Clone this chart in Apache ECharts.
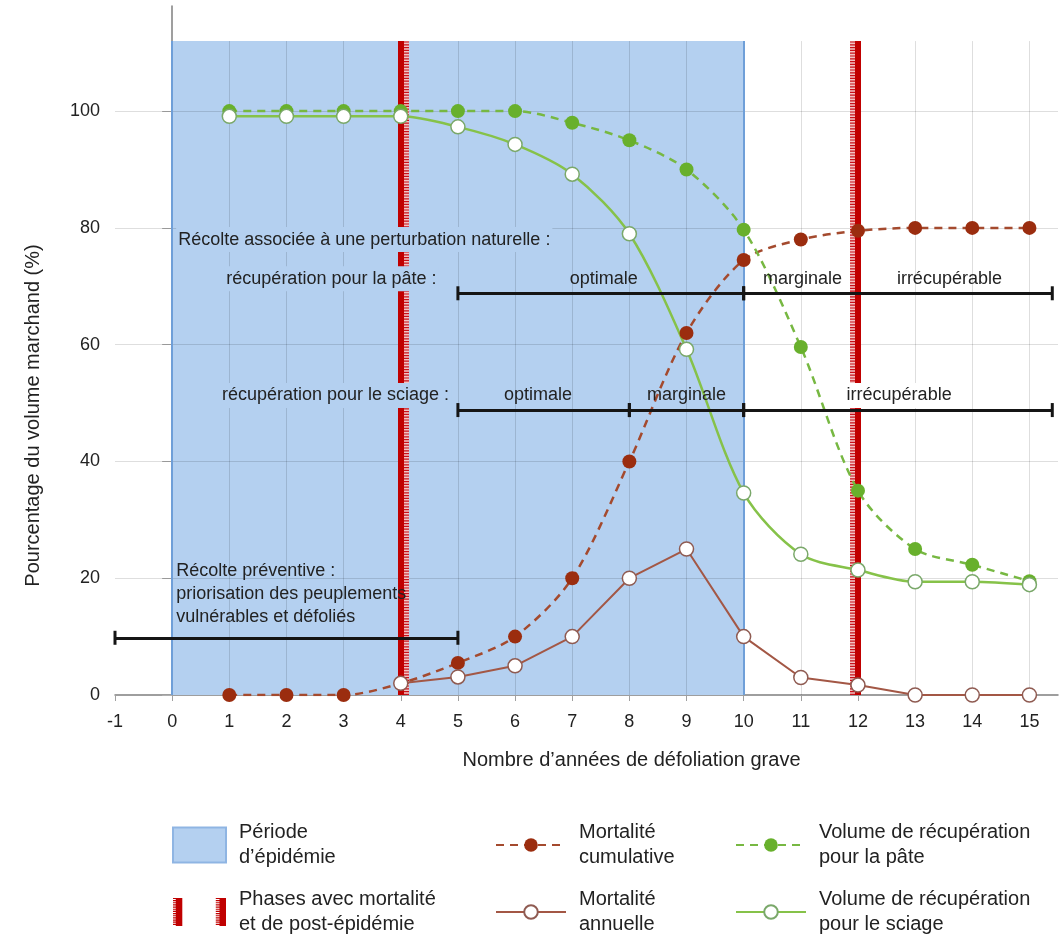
<!DOCTYPE html>
<html>
<head>
<meta charset="utf-8">
<script src="https://cdn.jsdelivr.net/npm/echarts@6/dist/echarts.min.js"></script>
<style>
  html, body { margin: 0; padding: 0; background: #ffffff; }
  #chart { width: 1063px; height: 943px; }
</style>
</head>
<body>
<div id="chart"></div>
<script>
// ---------- data ----------
const xTicks = [-1, 0, 1, 2, 3, 4, 5, 6, 7, 8, 9, 10, 11, 12, 13, 14, 15];
const yTicks = [0, 20, 40, 60, 80, 100];
const years = [1, 2, 3, 4, 5, 6, 7, 8, 9, 10, 11, 12, 13, 14, 15];
const cumulativeMortality = [0, 0, 0, 2, 5.5, 10, 20, 40, 62, 74.5, 78, 79.5, 80, 80, 80];
const annualMortality = [null, null, null, 2, 3.1, 5, 10, 20, 25, 10, 3, 1.7, 0, 0, 0];
const pulpRecovery = [100, 100, 100, 100, 100, 100, 98, 95, 90, 79.7, 59.6, 35, 25, 22.3, 19.5];
const sawlogRecovery = [99.1, 99.1, 99.1, 99.1, 97.3, 94.3, 89.2, 79, 59.2, 34.6, 24.1, 21.4, 19.4, 19.4, 18.9];
const epidemicPeriod = [0, 10];
const phaseYears = [4, 12];
const areaTop = 112;
// annotation bars: breakpoints along x and the level (y)
const pulpBar = { level: 68.8, breaks: [5, 10, 15.4] };
const sawlogBar = { level: 48.8, breaks: [5, 8, 10, 15.4] };
const preventiveBar = { level: 9.8, breaks: [-1, 5] };

const PERIOD = 'Période\nd’épidémie';
const PHASES = 'Phases avec mortalité\net de post-épidémie';
const CUM = 'Mortalité\ncumulative';
const ANN = 'Mortalité\nannuelle';
const PULP = 'Volume de récupération\npour la pâte';
const SAW = 'Volume de récupération\npour le sciage';

const annotations = [
  { text: 'Récolte associée à une perturbation naturelle :', x: 0.07, y: 78, align: 'left', bg: '#b4d0f0' },
  { text: 'récupération pour la pâte :', x: 4.66, y: 71.3, align: 'right', bg: '#b4d0f0' },
  { text: 'optimale', x: 7.55, y: 71.3, align: 'center' },
  { text: 'marginale', x: 11.03, y: 71.3, align: 'center' },
  { text: 'irrécupérable', x: 13.6, y: 71.3, align: 'center' },
  { text: 'récupération pour le sciage :', x: 4.88, y: 51.3, align: 'right', bg: '#b4d0f0' },
  { text: 'optimale', x: 6.4, y: 51.3, align: 'center' },
  { text: 'marginale', x: 9.0, y: 51.3, align: 'center' },
  { text: 'irrécupérable', x: 12.72, y: 51.3, align: 'center', bg: '#ffffff' },
  { text: 'Récolte préventive :\npriorisation des peuplements\nvulnérables et défoliés', x: 0.07, y: 17.3, align: 'left' }
];

// ---------- helpers ----------
const FONT = 'Liberation Sans, Arial, sans-serif';
const TXT = '#222222';
const pairs = (arr) => years.map((x, i) => [x, arr[i]]).filter(p => p[1] !== null);

const gridLines = [];
xTicks.filter(x => x > xTicks[0]).forEach(x => {
  gridLines.push([{ coord: [x, 0] }, { coord: [x, areaTop] }]);
});
yTicks.filter(y => y > 0).forEach(y => {
  gridLines.push([{ coord: [xTicks[0], y] }, { coord: [15.5, y] }]);
});
epidemicPeriod.forEach(x => {
  gridLines.push([{ coord: [x, 0], lineStyle: { color: '#6f9fd8', width: 2 } }, { coord: [x, areaTop] }]);
});

const phaseLines = [];
phaseYears.forEach((p, i) => {
  const side = i === 0 ? 1 : -1;
  const off = side * 0.092;
  phaseLines.push([{ coord: [p + off, 0], lineStyle: { color: '#f3c4c4', width: 5, type: 'solid' } }, { coord: [p + off, areaTop] }]);
  phaseLines.push([{ coord: [p + off, 0], lineStyle: { color: '#c8101a', width: 5, type: [1.2, 1.6] } }, { coord: [p + off, areaTop] }]);
  phaseLines.push([{ coord: [p, 0], lineStyle: { color: '#c00000', width: 6, type: 'solid' } }, { coord: [p, areaTop] }]);
});

const barSegments = [];
[pulpBar, sawlogBar, preventiveBar].forEach(b => {
  for (let i = 0; i < b.breaks.length - 1; i++) {
    barSegments.push([{ coord: [b.breaks[i], b.level] }, { coord: [b.breaks[i + 1], b.level] }]);
  }
});

// hatched legend icon: two red bars with comb-like ticks
let phaseIcon = 'path://M3,0H10V30H3ZM50,0H57V30H50Z';
for (let y = 0; y < 30; y += 2) {
  phaseIcon += 'M0,' + y + 'H3V' + (y + 1.1) + 'H0Z';
  phaseIcon += 'M46,' + y + 'H50V' + (y + 1.1) + 'H46Z';
}

const emptyMark = { show: false };

const chart = echarts.init(document.getElementById('chart'), null, { renderer: 'canvas' });

const legendText = { fontFamily: FONT, fontSize: 20, color: TXT, lineHeight: 25, padding: [0, 0, 0, 8] };

const option = {
  backgroundColor: '#ffffff',
  animation: false,
  grid: { left: 115, right: 5, top: 6, bottom: 248, containLabel: false },
  xAxis: {
    type: 'value', min: -1, max: 15.5, interval: 1,
    name: 'Nombre d’années de défoliation grave',
    nameLocation: 'middle', nameGap: 55,
    nameTextStyle: { fontFamily: FONT, fontSize: 20, color: TXT, padding: [0, 0, 0, 90] },
    axisLine: { show: true, onZero: true, lineStyle: { color: '#7f7f7f', width: 1.5 } },
    axisTick: { show: true, length: 6, customValues: xTicks, lineStyle: { color: '#a0a0a0' } },
    axisLabel: { customValues: xTicks, margin: 18, fontFamily: FONT, fontSize: 18, color: TXT },
    splitLine: { show: false }
  },
  yAxis: {
    type: 'value', min: 0, max: 118, interval: 20,
    name: 'Pourcentage du volume marchand (%)',
    nameLocation: 'middle', nameGap: 72,
    nameTextStyle: { fontFamily: FONT, fontSize: 20, color: TXT, padding: [0, 130, 0, 0] },
    axisLine: { show: true, lineStyle: { color: '#7f7f7f', width: 1.5 } },
    axisTick: { show: true, length: 10, customValues: yTicks, lineStyle: { color: '#b0b0b0' } },
    axisLabel: { customValues: yTicks, margin: 15, fontFamily: FONT, fontSize: 18, color: TXT },
    splitLine: { show: false }
  },
  legend: [
    {
      orient: 'vertical', left: 172, top: 820, padding: 0, itemWidth: 53, itemHeight: 35, itemGap: 17,
      selectedMode: false, textStyle: legendText,
      data: [{ name: PERIOD, icon: 'rect' }, { name: PHASES, icon: phaseIcon }]
    },
    {
      orient: 'vertical', left: 495, top: 820, padding: 0, itemWidth: 70, itemHeight: 17, itemGap: 17,
      selectedMode: false, textStyle: legendText, data: [CUM, ANN]
    },
    {
      orient: 'vertical', left: 735, top: 820, padding: 0, itemWidth: 70, itemHeight: 17, itemGap: 17,
      selectedMode: false, textStyle: legendText, data: [PULP, SAW]
    }
  ],
  series: [
    {
      name: PERIOD, type: 'line', data: [],
      itemStyle: { color: '#b4d0f0', borderColor: '#8fb5e3', borderWidth: 1 },
      markArea: {
        silent: true, z: 1, label: emptyMark,
        itemStyle: { color: '#b4d0f0', opacity: 1 },
        data: [[{ coord: [epidemicPeriod[0], 0] }, { coord: [epidemicPeriod[1], areaTop] }]]
      }
    },
    {
      name: 'grid', type: 'line', data: [],
      markLine: {
        silent: true, z: 1.5, symbol: 'none', label: emptyMark, animation: false,
        lineStyle: { color: 'rgba(0,0,0,0.13)', width: 1, type: 'solid' },
        data: gridLines
      }
    },
    {
      name: PHASES, type: 'line', data: [],
      itemStyle: { color: '#c00000' },
      markLine: {
        silent: true, z: 2, symbol: 'none', label: emptyMark, animation: false,
        data: phaseLines
      }
    },
    {
      name: CUM, type: 'line', z: 3, smooth: 0.3, data: pairs(cumulativeMortality),
      symbol: 'circle', symbolSize: 14,
      lineStyle: { color: '#a44a2e', width: 2.5, type: [8, 6] },
      itemStyle: { color: '#9b2d0f' }
    },
    {
      name: ANN, type: 'line', z: 3, data: pairs(annualMortality),
      symbol: 'circle', symbolSize: 14,
      lineStyle: { color: '#a35745', width: 2 },
      itemStyle: { color: '#ffffff', borderColor: '#8f5b52', borderWidth: 1.5 }
    },
    {
      name: PULP, type: 'line', z: 3, smooth: 0.3, data: pairs(pulpRecovery),
      symbol: 'circle', symbolSize: 14,
      lineStyle: { color: '#77b842', width: 2.5, type: [8, 6] },
      itemStyle: { color: '#68b02c' }
    },
    {
      name: SAW, type: 'line', z: 3, smooth: 0.3, data: pairs(sawlogRecovery),
      symbol: 'circle', symbolSize: 14,
      lineStyle: { color: '#86c249', width: 2.5 },
      itemStyle: { color: '#ffffff', borderColor: '#7aa86a', borderWidth: 1.5 }
    },
    {
      name: 'bars', type: 'line', data: [],
      markLine: {
        silent: true, z: 4, symbol: ['rect', 'rect'], symbolSize: [14, 3], label: emptyMark, animation: false,
        lineStyle: { color: '#151515', width: 3, type: 'solid' },
        itemStyle: { color: '#151515' },
        data: barSegments
      }
    },
    {
      name: 'labels', type: 'scatter', z: 6, symbolSize: 0, silent: true,
      itemStyle: { opacity: 1 },
      data: annotations.map(a => ({
        value: [a.x, a.y],
        label: {
          show: true, position: 'inside', formatter: a.text, align: a.align,
          fontFamily: FONT, fontSize: 18, color: TXT, lineHeight: 23, opacity: 1,
          backgroundColor: a.bg || 'transparent', padding: a.bg ? [1, 2] : 0
        }
      }))
    }
  ]
};
chart.setOption(option);
</script>
</body>
</html>
